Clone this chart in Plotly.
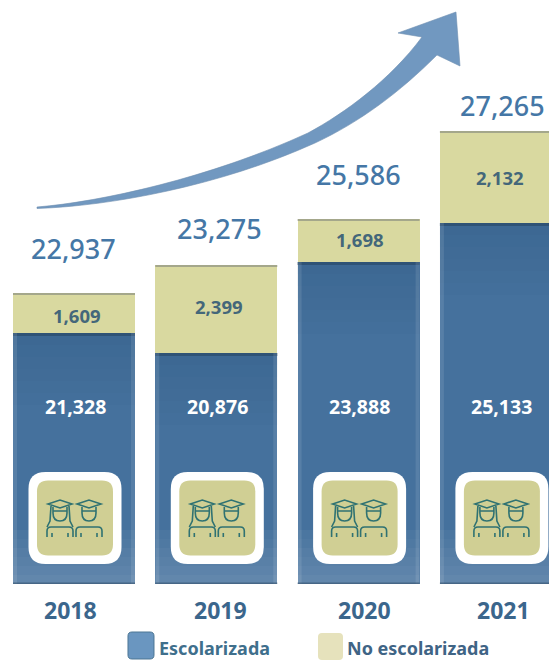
import plotly.graph_objects as go

W, H = 549, 661

years = ["2018", "2019", "2020", "2021"]
escolarizada = [21328, 20876, 23888, 25133]
no_escolarizada = [1609, 2399, 1698, 2132]
totales = [22937, 23275, 25586, 27265]
# The source graphic is not drawn to scale: these are the bar heights as drawn.
alto_escolarizada = [251, 231, 322, 361]
alto_no_escolarizada = [40, 88, 43, 92]

BLUE = "#45719d"
KHAKI = "#d9d9a0"
LABEL_BLUE = "#4577a6"
YEAR_BLUE = "#3b668c"
DARK = "#44677a"
FONT = "Noto Sans"

BASE_PX = 584
X0_PX, STEP_PX, BAR_PX = 74, 142.3, 122


def px(x):
    return x / W


def py(y):
    return 1 - y / H


def P(x, y):
    return f"{px(x):.5f},{py(y):.5f}"


def rounded(x0, y0, x1, y1, r):
    return (
        f"M{P(x0 + r, y0)} L{P(x1 - r, y0)} Q{P(x1, y0)} {P(x1, y0 + r)} "
        f"L{P(x1, y1 - r)} Q{P(x1, y1)} {P(x1 - r, y1)} "
        f"L{P(x0 + r, y1)} Q{P(x0, y1)} {P(x0, y1 - r)} "
        f"L{P(x0, y0 + r)} Q{P(x0, y0)} {P(x0 + r, y0)} Z"
    )


def person(cx, cy, hair=False):
    d = (
        f"M{P(cx - 12, cy - 14)} L{P(cx, cy - 18)} L{P(cx + 12, cy - 14)} L{P(cx, cy - 10)} Z "
        f"M{P(cx - 7, cy - 11)} L{P(cx - 7, cy - 5)} Q{P(cx - 7, cy + 3)} {P(cx, cy + 3)} "
        f"Q{P(cx + 7, cy + 3)} {P(cx + 7, cy - 5)} L{P(cx + 7, cy - 11)} "
        f"M{P(cx - 7, cy - 7)} L{P(cx + 7, cy - 7)} "
        f"M{P(cx - 13, cy + 19)} L{P(cx - 13, cy + 13)} Q{P(cx - 13, cy + 9)} {P(cx - 9, cy + 9)} "
        f"L{P(cx + 9, cy + 9)} Q{P(cx + 13, cy + 9)} {P(cx + 13, cy + 13)} L{P(cx + 13, cy + 19)} "
        f"M{P(cx - 8, cy + 19)} L{P(cx - 8, cy + 15)} M{P(cx + 8, cy + 19)} L{P(cx + 8, cy + 15)} "
    )
    if hair:
        d += (
            f"M{P(cx - 9, cy - 12)} L{P(cx - 10, cy + 3)} L{P(cx - 13, cy + 9)} "
            f"M{P(cx + 9, cy - 12)} L{P(cx + 10, cy + 3)} L{P(cx + 13, cy + 9)} "
        )
    return d


shape_list = []


def add_path(d, fill=None, line=None, lw=0, opacity=1):
    shape_list.append(dict(
        type="path", xref="paper", yref="paper", path=d, opacity=opacity,
        fillcolor=fill if fill else "rgba(0,0,0,0)",
        line=dict(color=line if line else "rgba(0,0,0,0)", width=lw),
        layer="above",
    ))


def add_rect(x0, y0, x1, y1, fill, opacity=1):
    shape_list.append(dict(
        type="rect", xref="paper", yref="paper", x0=px(x0), x1=px(x1), y0=py(y1), y1=py(y0),
        fillcolor=fill, opacity=opacity, line=dict(width=0), layer="above",
    ))


fig = go.Figure()
fig.add_bar(
    x=years, y=alto_escolarizada, name="Escolarizada", width=BAR_PX / STEP_PX,
    marker=dict(color=BLUE, line=dict(width=0)),
    text=[f"{v:,}" for v in escolarizada], textposition="none", showlegend=False,
)
fig.add_bar(
    x=years, y=alto_no_escolarizada, name="No escolarizada", width=BAR_PX / STEP_PX,
    marker=dict(color=KHAKI, line=dict(width=0)),
    text=[f"{v:,}" for v in no_escolarizada], textposition="none", showlegend=False,
)

annotations = []
total_gap = [45, 37, 45, 26]
total_dx = [-1, 3, 0, 2]
mid_dx = [3, 3, 1, -1]
mid_dy = [-2, 3, 1, 0]
year_dx = [-4, 4, 6, 3]
for i, yr in enumerate(years):
    cx = X0_PX + i * STEP_PX
    h_b = alto_escolarizada[i]
    h_y = alto_no_escolarizada[i]
    top = BASE_PX - h_b - h_y
    split = BASE_PX - h_b
    left, right = cx - BAR_PX / 2, cx + BAR_PX / 2

    # soft shading of the printed bars
    add_rect(left, split, right, split + 3, "#2f4f6e", 0.75)
    add_rect(left, top, right, top + 2, "#8d9182", 0.7)
    for k in range(6):
        add_rect(left, split + k * 12, right, split + (k + 1) * 12, "#20486f", 0.20 - k * 0.03)
    for k in range(6):
        add_rect(left, BASE_PX - (k + 1) * 9, right, BASE_PX - k * 9, "#ffffff", 0.16 - k * 0.025)
    add_rect(left, split, left + 4, BASE_PX, "#ffffff", 0.10)
    add_rect(right - 4, split, right, BASE_PX, "#ffffff", 0.10)
    add_rect(left, BASE_PX - 1.5, right, BASE_PX, "#33506c", 0.6)

    # icon
    ic = cx + 1
    icy = 518
    add_path(rounded(ic - 46.5, icy - 46, ic + 46.5, icy + 46, 17), fill="#ffffff")
    add_path(rounded(ic - 38, icy - 37.5, ic + 38, icy + 37.5, 11), fill="#d0cf94")
    add_path(person(ic - 15, icy, hair=True), line="#2f7272", lw=1.6)
    add_path(person(ic + 14, icy), line="#2f7272", lw=1.6)

    # labels: numeric category index, since "2018" as a string reads as a range position
    annotations.append(dict(
        x=i, y=h_b + h_y, xref="x", yref="y", yshift=total_gap[i], xshift=total_dx[i],
        text=f"{totales[i]:,}", showarrow=False, yanchor="middle",
        font=dict(family=FONT, size=27, color=LABEL_BLUE, weight=500),
    ))
    annotations.append(dict(
        x=i, y=h_b + h_y / 2, xref="x", yref="y", xshift=mid_dx[i], yshift=mid_dy[i],
        text=f"{no_escolarizada[i]:,}", showarrow=False,
        yanchor="middle", font=dict(family=FONT, size=18.5, color=DARK, weight="bold"),
    ))
    annotations.append(dict(
        x=i, y=178, xref="x", yref="y", xshift=1, text=f"{escolarizada[i]:,}", showarrow=False,
        yanchor="middle", font=dict(family=FONT, size=19.5, color="#ffffff", weight="bold"),
    ))
    annotations.append(dict(
        x=i, y=0, xref="x", yref="y", yshift=-26, xshift=year_dx[i], text=yr, showarrow=False,
        yanchor="middle", font=dict(family=FONT, size=23, color=YEAR_BLUE, weight="bold"),
    ))

# growth arrow
arrow = (
    f"M{P(37, 207)} C{P(100, 202)} {P(210, 178)} {P(308, 133)} "
    f"C{P(345, 113)} {P(390, 80)} {P(422, 37)} "
    f"L{P(398, 33)} L{P(456, 12)} L{P(460, 66)} L{P(437, 55)} "
    f"C{P(400, 92)} {P(360, 122)} {P(315, 143)} "
    f"C{P(220, 186)} {P(110, 206)} {P(37, 208.5)} Z"
)
add_path(arrow, fill="#7198c0", line="#6f8fb0", lw=0.6)

# legend key
add_path(rounded(128, 632, 154, 659, 4), fill="#6a96c0", line="#4c7694", lw=1)
add_path(rounded(318, 633, 343, 660, 4), fill="#e6e2bc")
annotations.append(dict(
    xref="paper", yref="paper", x=px(157), y=py(647.5), xanchor="left", yanchor="middle", text="Escolarizada",
    showarrow=False, font=dict(family=FONT, size=18, color="#3f6f8c", weight="bold"),
))
annotations.append(dict(
    xref="paper", yref="paper", x=px(345), y=py(647.5), xanchor="left", yanchor="middle", text="No escolarizada",
    showarrow=False, font=dict(family=FONT, size=18, color="#3f6485", weight="bold"),
))

hidden = dict(showgrid=False, zeroline=False, showticklabels=False, showline=False, ticks="")
fig.update_layout(
    width=W, height=H, autosize=False, barmode="stack",
    margin=dict(l=0, r=0, t=0, b=0),
    paper_bgcolor="#ffffff", plot_bgcolor="#ffffff",
    xaxis=dict(
        type="category", categoryorder="array", categoryarray=years,
        range=[-X0_PX / STEP_PX, (W - X0_PX) / STEP_PX], **hidden,
    ),
    yaxis=dict(range=[BASE_PX - H, BASE_PX], **hidden),
    shapes=shape_list, annotations=annotations, showlegend=False,
)
fig.write_html(
    "out.html",
    config=dict(displayModeBar=False),
    post_script="document.body.style.margin='0';document.body.style.overflow='hidden';",
)
